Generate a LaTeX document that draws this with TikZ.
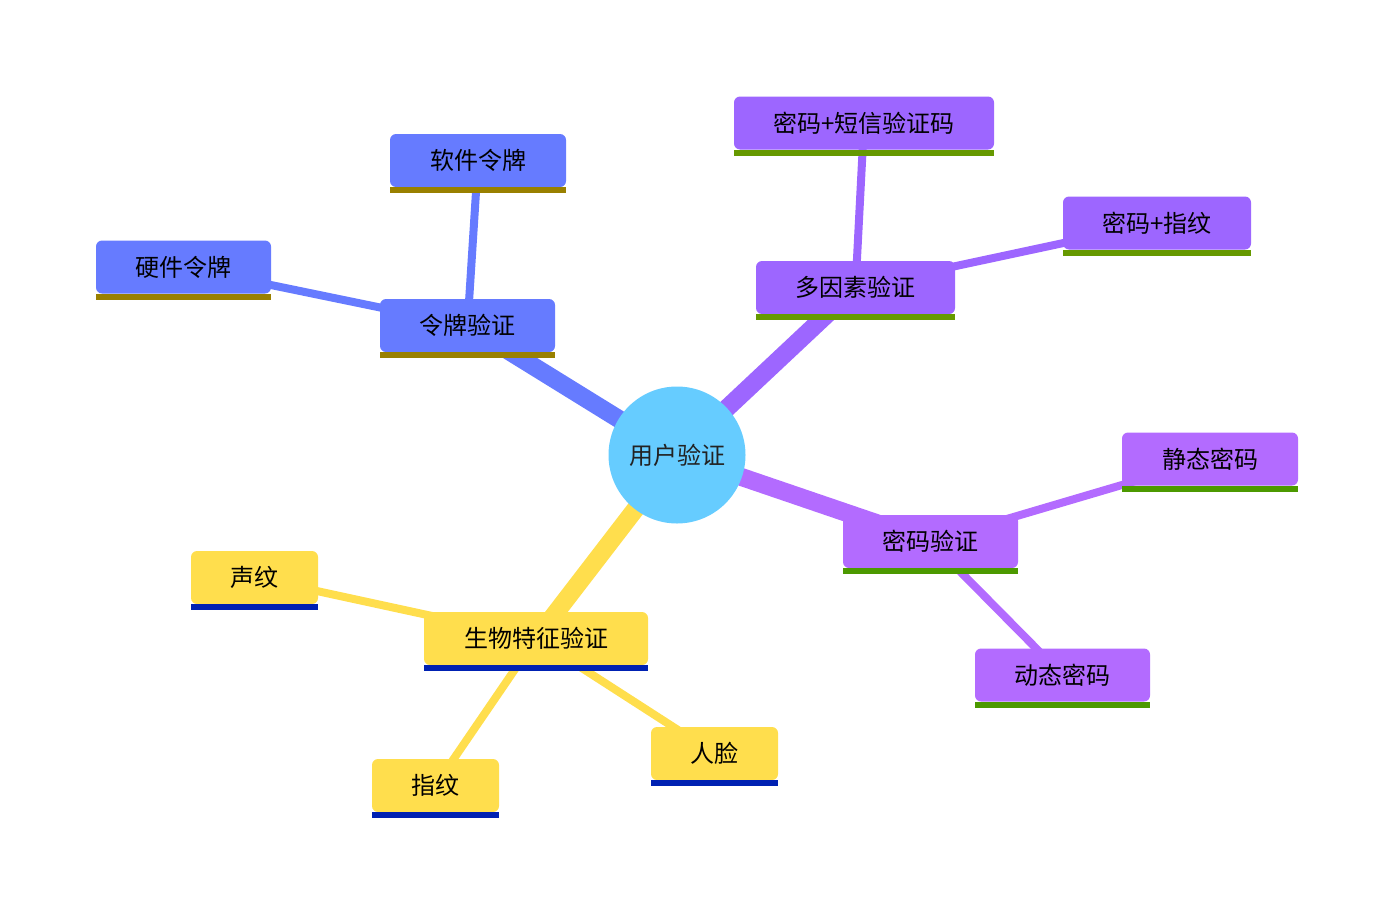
\documentclass[tikz,border=0pt]{standalone}
\usepackage{fontspec}
\newfontfamily\cjk{Noto Sans CJK SC}
\usetikzlibrary{backgrounds}
\definecolor{tokc}{HTML}{667BFF}
\definecolor{toku}{HTML}{998000}
\definecolor{mfac}{HTML}{9D66FF}
\definecolor{mfau}{HTML}{669900}
\definecolor{pwdc}{HTML}{B36BFF}
\definecolor{pwdu}{HTML}{4C9900}
\definecolor{bioc}{HTML}{FFDE4D}
\definecolor{biou}{HTML}{0021B2}
\definecolor{rootc}{HTML}{66CCFF}
\definecolor{roott}{HTML}{222222}
\newcommand{\mmbox}[7]{%
  \node[mmboxstyle, fill=#5, minimum width=#4pt] (#1) at (#2,#3) {#7};
  \fill[#6] (#1.south west) rectangle ([yshift=-6pt]#1.south east);}
\begin{document}
\begin{tikzpicture}[x=1pt,y=-1pt,
  mmboxstyle/.style={rounded corners=6pt, minimum height=53pt, inner sep=0pt,
    font=\cjk\fontsize{24}{28}\selectfont, text=black},
  rootstyle/.style={circle, fill=rootc, minimum size=137pt, inner sep=0pt,
    font=\cjk\fontsize{24}{28}\selectfont, text=roott},
  mainedge/.style={line width=18pt},
  subedge/.style={line width=8pt}]
\useasboundingbox (0,0) rectangle (1394,910);

\node[rootstyle] (root) at (677,455) {用户验证};

\mmbox{tok}{467.5}{325.5}{175}{tokc}{toku}{令牌验证}
\mmbox{soft}{478}{160.5}{176}{tokc}{toku}{软件令牌}
\mmbox{hard}{183.5}{267}{175}{tokc}{toku}{硬件令牌}

\mmbox{mfa}{855.5}{287.5}{199}{mfac}{mfau}{多因素验证}
\mmbox{sms}{864}{123}{260}{mfac}{mfau}{密码+短信验证码}
\mmbox{fpw}{1157}{223}{188}{mfac}{mfau}{密码+指纹}

\mmbox{pwd}{930.5}{541.5}{175}{pwdc}{pwdu}{密码验证}
\mmbox{stat}{1210}{459}{176}{pwdc}{pwdu}{静态密码}
\mmbox{dyn}{1062.5}{675}{175}{pwdc}{pwdu}{动态密码}

\mmbox{bio}{536}{638.5}{224}{bioc}{biou}{生物特征验证}
\mmbox{voice}{254.5}{577.5}{127}{bioc}{biou}{声纹}
\mmbox{finger}{435.5}{785.5}{127}{bioc}{biou}{指纹}
\mmbox{face}{714.5}{753.5}{127}{bioc}{biou}{人脸}

\begin{scope}[on background layer]
  \draw[mainedge, tokc] (root.center) -- (tok.center);
  \draw[mainedge, mfac] (root.center) -- (mfa.center);
  \draw[mainedge, pwdc] (root.center) -- (pwd.center);
  \draw[mainedge, bioc] (root.center) -- (bio.center);
  \draw[subedge, tokc] (tok.center) -- (soft.center);
  \draw[subedge, tokc] (tok.center) -- (hard.center);
  \draw[subedge, mfac] (mfa.center) -- (sms.center);
  \draw[subedge, mfac] (mfa.center) -- (fpw.center);
  \draw[subedge, pwdc] (pwd.center) -- (stat.center);
  \draw[subedge, pwdc] (pwd.center) -- (dyn.center);
  \draw[subedge, bioc] (bio.center) -- (voice.center);
  \draw[subedge, bioc] (bio.center) -- (finger.center);
  \draw[subedge, bioc] (bio.center) -- (face.center);
\end{scope}
\end{tikzpicture}
\end{document}
